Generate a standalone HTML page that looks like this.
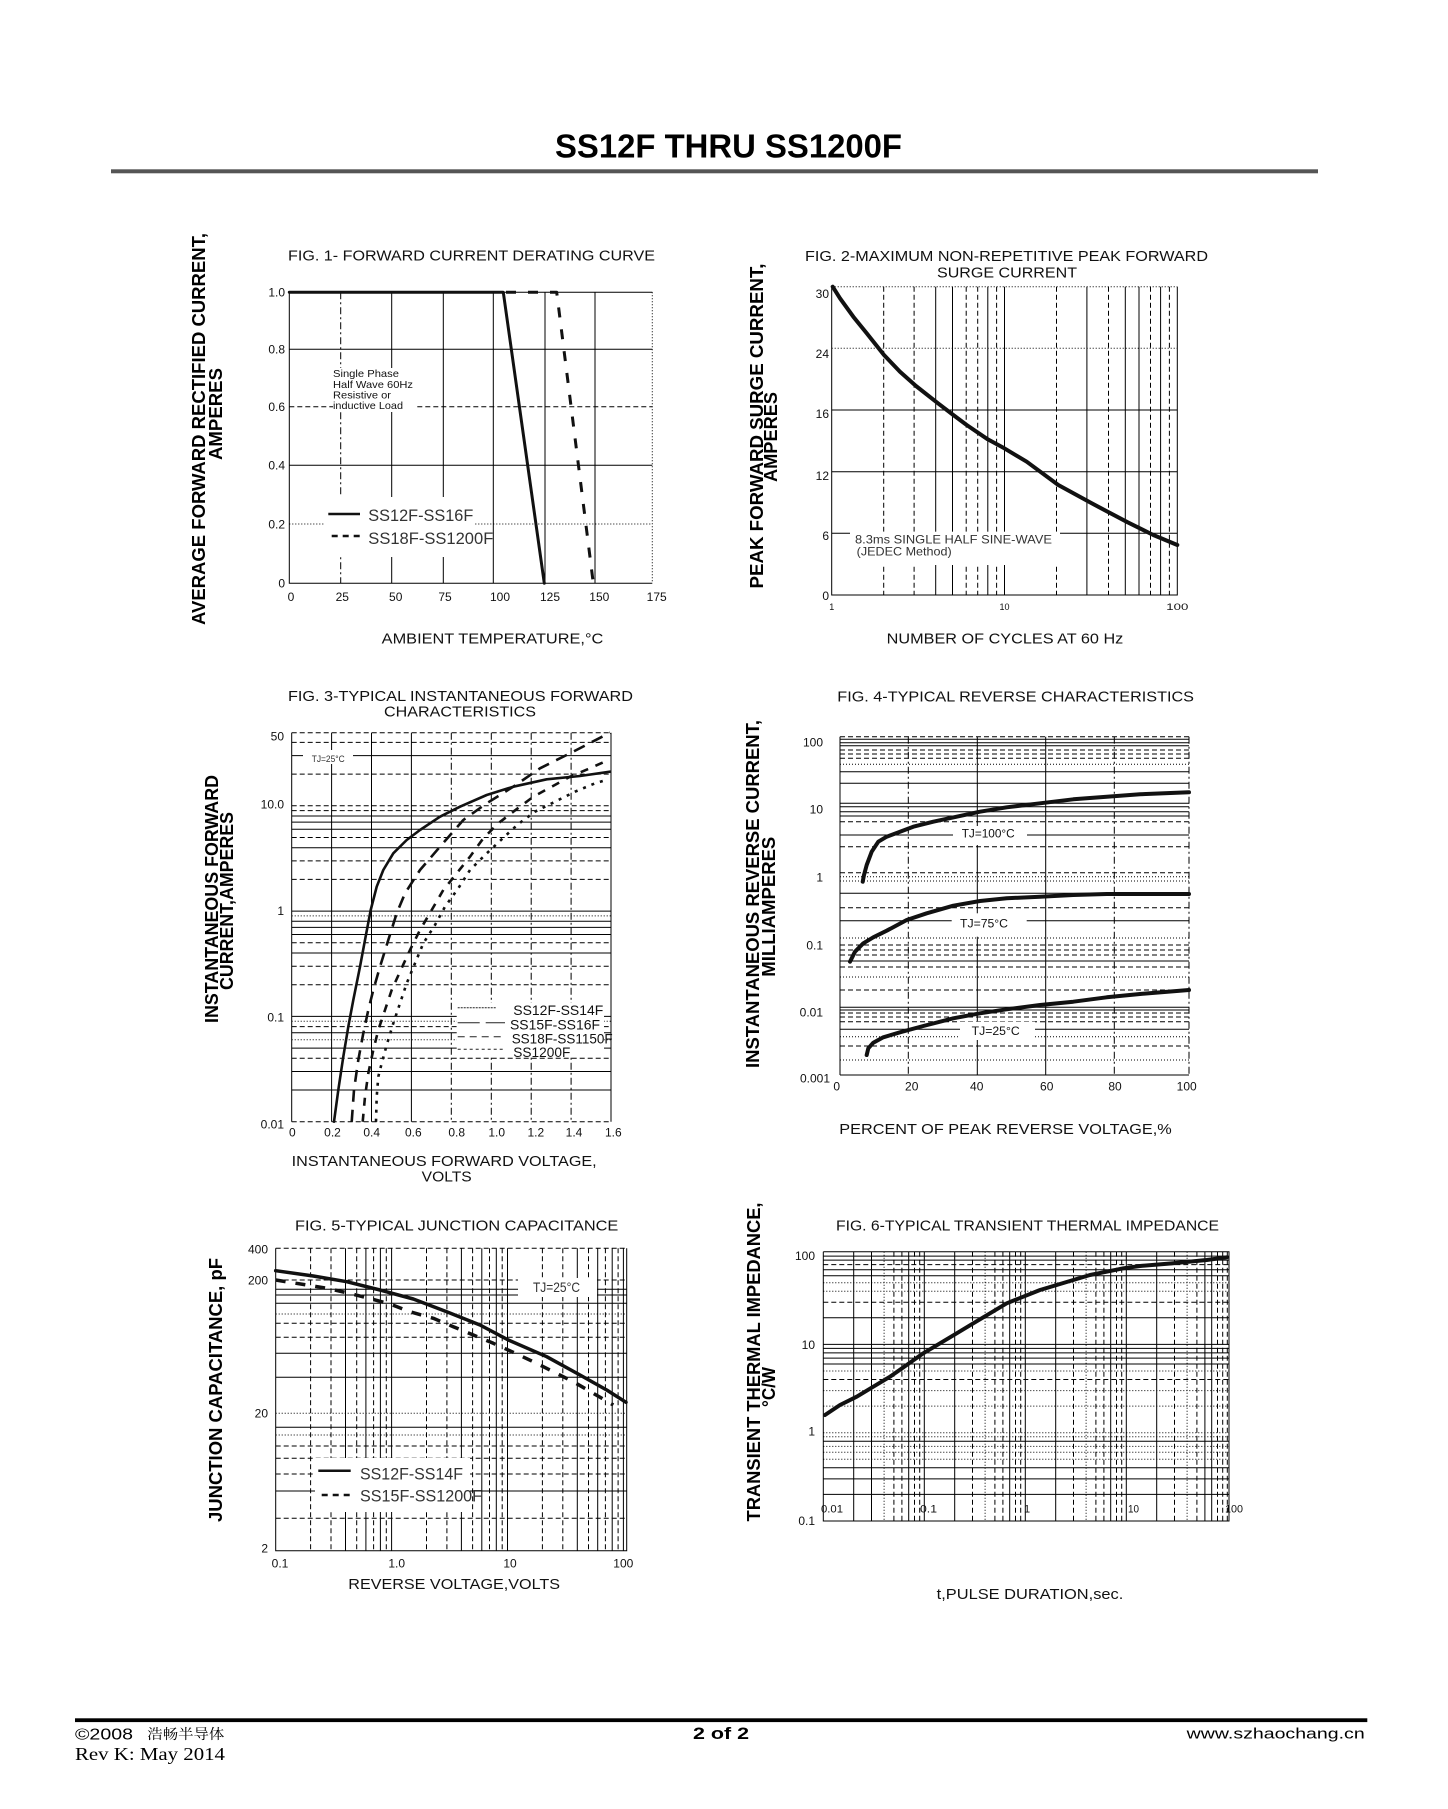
<!DOCTYPE html>
<html><head><meta charset="utf-8"><style>
html,body{margin:0;padding:0;background:#fff}
svg{display:block}
text{font-family:"Liberation Sans",Arial,sans-serif;fill:#111}
.t{font-size:15px}
.k{font-size:12px;fill:#333}
.yb{font-size:18px;font-weight:bold;fill:#000}
.g{fill:none;stroke:#000;stroke-width:1}
.da{stroke-dasharray:5 3}
.dt{stroke-dasharray:1 2}
.dd{stroke-dasharray:7 3 2 3}
.c{fill:none;stroke:#111;stroke-linejoin:round;stroke-linecap:round}
</style></head><body>
<svg width="1448" height="1809" viewBox="0 0 1448 1809" xmlns="http://www.w3.org/2000/svg">
<rect width="1448" height="1809" fill="#fff"/>

<!-- HEADER -->
<text x="555" y="157.3" font-size="33" font-weight="bold" textLength="347" lengthAdjust="spacingAndGlyphs" style="fill:#000">SS12F THRU SS1200F</text>
<rect x="111" y="169.3" width="1207" height="4" fill="#555"/>

<!-- ================= FIG 1 ================= -->
<text class="t" x="288" y="260.5" textLength="367" lengthAdjust="spacingAndGlyphs">FIG. 1- FORWARD CURRENT DERATING CURVE</text>
<path class="g" d="M289.3 292.3V583.3H652.3M289.3 292.3H652.3M391.7 292.3V583.3M443.3 292.3V583.3M493.3 292.3V583.3M545 292.3V583.3M595 292.3V583.3M289.3 349.3H652.3M289.3 465.3H652.3"/>
<path class="g dd" d="M340.7 292.3V583.3"/>
<path class="g da" d="M289.3 406.7H652.3"/>
<path class="g dt" d="M289.3 524H652.3M652.3 292.3V583.3"/>
<rect x="333" y="368" width="84" height="44" fill="#fff"/>
<rect x="325" y="497" width="150" height="60" fill="#fff"/>
<text x="333" y="377" font-size="10.5" textLength="66" lengthAdjust="spacingAndGlyphs">Single Phase</text>
<text x="333" y="388" font-size="10.5" textLength="80" lengthAdjust="spacingAndGlyphs">Half Wave 60Hz</text>
<text x="333" y="398.5" font-size="10.5" textLength="58" lengthAdjust="spacingAndGlyphs">Resistive or</text>
<text x="333" y="409" font-size="10.5" textLength="70" lengthAdjust="spacingAndGlyphs">inductive Load</text>
<polyline class="c" stroke-width="3" points="289.3,292.3 503.3,292.3 544.3,583.3"/>
<polyline class="c" stroke-width="3" stroke-dasharray="10 12" style="stroke-linecap:butt" points="506,292.3 556.7,292.3 593.3,583.3"/>
<line x1="328.3" y1="514" x2="360" y2="514" stroke="#111" stroke-width="2.5"/>
<line x1="331.7" y1="536" x2="360" y2="536" stroke="#111" stroke-width="2.5" stroke-dasharray="6 5"/>
<text x="368.3" y="521" font-size="17" textLength="105" lengthAdjust="spacingAndGlyphs" style="fill:#333">SS12F-SS16F</text>
<text x="368.3" y="544" font-size="17" textLength="125" lengthAdjust="spacingAndGlyphs" style="fill:#333">SS18F-SS1200F</text>
<g class="k" text-anchor="end">
<text x="285" y="296.7">1.0</text><text x="285" y="353.7">0.8</text><text x="285" y="411">0.6</text>
<text x="285" y="469.7">0.4</text><text x="285" y="528.3">0.2</text><text x="285" y="587.7">0</text>
</g>
<g class="k" text-anchor="middle">
<text x="291" y="601">0</text><text x="342.3" y="601">25</text><text x="395.7" y="601">50</text><text x="445" y="601">75</text>
<text x="500" y="601">100</text><text x="550" y="601">125</text><text x="599.3" y="601">150</text><text x="656.7" y="601">175</text>
</g>
<text class="t" x="381.7" y="643.3" textLength="221.6" lengthAdjust="spacingAndGlyphs">AMBIENT TEMPERATURE,°C</text>
<text class="yb" transform="translate(205,429) rotate(-90)" text-anchor="middle" textLength="392" lengthAdjust="spacingAndGlyphs">AVERAGE FORWARD RECTIFIED CURRENT,</text>
<text class="yb" transform="translate(222,414) rotate(-90)" text-anchor="middle" textLength="92" lengthAdjust="spacingAndGlyphs">AMPERES</text>

<!-- ================= FIG 2 ================= -->
<text class="t" x="805" y="261" textLength="403" lengthAdjust="spacingAndGlyphs">FIG. 2-MAXIMUM NON-REPETITIVE PEAK FORWARD</text>
<text class="t" x="937" y="277.5" textLength="140" lengthAdjust="spacingAndGlyphs">SURGE CURRENT</text>
<path class="g" d="M831.7 286.7V595H1177.3V286.7M935.7 286.7V595M952.5 286.7V595M987.8 286.7V595M1004.5 286.7V595M1086.9 286.7V595M1125.3 286.7V595M1139 286.7V595M1160.6 286.7V595M831.7 410H1177.3M831.7 471.7H1177.3M831.7 533.3H1177.3"/>
<path class="g da" d="M883.7 286.7V595M914.1 286.7V595M966.2 286.7V595M977.7 286.7V595M996.6 286.7V595M1056.5 286.7V595M1108.5 286.7V595M1150.5 286.7V595M1169.4 286.7V595"/>
<path class="g dt" d="M831.7 286.7H1177.3M831.7 348.3H1177.3"/>
<rect x="850" y="531.7" width="210" height="33.3" fill="#fff"/>
<text x="855" y="543.3" font-size="12" textLength="197" lengthAdjust="spacingAndGlyphs" style="fill:#333">8.3ms SINGLE HALF SINE-WAVE</text>
<text x="856.7" y="555.5" font-size="12" textLength="95" lengthAdjust="spacingAndGlyphs" style="fill:#333">(JEDEC Method)</text>
<polyline class="c" stroke-width="4" points="832.7,286.7 840,298.3 853.3,316.7 866.7,333.3 884,355 900,371.7 916,386 938,403.3 953.3,415 966.7,425 987.7,439.3 1004.3,448.3 1026.7,461.7 1058.3,485 1091.7,503.3 1127.7,522.3 1153.3,535 1177.3,545"/>
<g class="k" text-anchor="end">
<text x="829" y="298">30</text><text x="829" y="358">24</text><text x="829" y="418">16</text>
<text x="829" y="480">12</text><text x="829" y="540">6</text><text x="829" y="600">0</text>
</g>
<g font-size="9" text-anchor="middle" style="fill:#333">
<text x="831.7" y="610">1</text><text x="1004.5" y="610">10</text><text x="1177.3" y="610" textLength="22" lengthAdjust="spacingAndGlyphs">100</text>
</g>
<text class="t" x="886.7" y="643.3" textLength="236.6" lengthAdjust="spacingAndGlyphs">NUMBER OF CYCLES AT 60 Hz</text>
<text class="yb" transform="translate(763,426) rotate(-90)" text-anchor="middle" textLength="325" lengthAdjust="spacingAndGlyphs">PEAK  FORWARD SURGE CURRENT,</text>
<text class="yb" transform="translate(777,437) rotate(-90)" text-anchor="middle" textLength="90" lengthAdjust="spacingAndGlyphs">AMPERES</text>

<!-- ================= FIG 3 ================= -->
<text class="t" x="288" y="701" textLength="345" lengthAdjust="spacingAndGlyphs">FIG. 3-TYPICAL INSTANTANEOUS FORWARD</text>
<text class="t" x="384" y="716.7" textLength="152" lengthAdjust="spacingAndGlyphs">CHARACTERISTICS</text>
<path class="g" d="M291.7 732.7V1121.7M611 732.7V1121.7M331.6 732.7V1121.7M371.5 732.7V1121.7M411.4 732.7V1121.7
M291.7 1090H611M291.7 1071.5H611M291.7 1048.1H611M291.7 1032.7H611M291.7 1016.4H611
M291.7 953H611M291.7 934.5H611M291.7 927.4H611M291.7 921.3H611M291.7 911.1H611
M291.7 847.7H611M291.7 829.2H611M291.7 822.1H611M291.7 816H611M291.7 755.6H611"/>
<path class="g dd" d="M451.3 732.7V1121.7M491.3 732.7V1121.7M531.2 732.7V1121.7M571.1 732.7V1121.7"/>
<path class="g da" d="M291.7 732.7H611M291.7 1121.7H611M291.7 1058.3H611M291.7 1026.6H611M291.7 984.7H611M291.7 966.2H611M291.7 942.8H611M291.7 879.4H611M291.7 860.9H611M291.7 837.5H611M291.7 810.6H611M291.7 805.8H611M291.7 774.1H611M291.7 742.4H611"/>
<path class="g dt" d="M291.7 1039.8H611M291.7 1021.2H611M291.7 915.9H611"/>
<rect x="303" y="750" width="50" height="14" fill="#fff"/>
<text x="311.7" y="762" font-size="9" textLength="33" lengthAdjust="spacingAndGlyphs" style="fill:#333">TJ=25°C</text>
<rect x="456.7" y="1003" width="147.3" height="52" fill="#fff"/>
<polyline class="c" stroke-width="2.6" points="334,1121.7 338.3,1090 343.3,1056.7 348.3,1026.7 353.3,1000 360,966.7 365,940 370.7,910 376.7,886.7 383.3,870 393.3,853.3 406.7,840 420,830 440,816.7 460,806.7 486.7,795 513.3,786.7 546.7,779.3 580,776 610,771.7"/>
<polyline class="c" stroke-width="2.6" stroke-dasharray="12 8" style="stroke-linecap:butt" points="351.7,1121.7 354,1090 358.3,1060 363.3,1033.3 368.3,1010 373.3,990 380,966.7 388.3,940 396.7,913.3 405,893.3 420,870 440,846.7 463.3,820 486.7,803.3 513.3,786.7 540,768.3 570,753.3 610,732.7"/>
<polyline class="c" stroke-width="2.6" stroke-dasharray="8 8" style="stroke-linecap:butt" points="362.7,1121.7 365,1096.7 368.3,1073.3 373.3,1050 378.3,1030 385,1010 391.7,990 400,971.7 410,950 420,930 431.7,910 443.3,890 456.7,873.3 470,856.7 483.3,838.3 498.3,823.3 513.3,811.7 533.3,796.7 551.7,786.7 570,776.7 590,768.3 608.3,760"/>
<polyline class="c" stroke-width="2.6" stroke-dasharray="3 6" style="stroke-linecap:butt" points="376,1121.7 376.7,1096.7 378.3,1076.7 381.7,1063.3 386.7,1045 393.3,1023.3 400,1003.3 406.7,983.3 415,963.3 423.3,943.3 435,925 445,906.7 458.3,888.3 470,870 485,855 501.7,839.3 518.3,824 535,811.7 555,801.7 575,791.7 595,783.3 608.3,779.3"/>
<line x1="457.7" y1="1007.7" x2="496.7" y2="1007.7" stroke="#222" stroke-width="1" stroke-dasharray="2 1"/>
<line x1="457.7" y1="1022.7" x2="505" y2="1022.7" stroke="#222" stroke-width="1" stroke-dasharray="22 6"/>
<line x1="457.7" y1="1036.7" x2="505" y2="1036.7" stroke="#222" stroke-width="1" stroke-dasharray="7 5"/>
<line x1="457.7" y1="1049.3" x2="505" y2="1049.3" stroke="#222" stroke-width="1" stroke-dasharray="3 3"/>
<g font-size="13.5" style="fill:#333">
<text x="513.3" y="1015" textLength="90" lengthAdjust="spacingAndGlyphs">SS12F-SS14F</text>
<text x="510" y="1029.5" textLength="90" lengthAdjust="spacingAndGlyphs">SS15F-SS16F</text>
<text x="511.7" y="1043.3" textLength="101" lengthAdjust="spacingAndGlyphs">SS18F-SS1150F</text>
<text x="513.3" y="1057" textLength="57" lengthAdjust="spacingAndGlyphs">SS1200F</text>
</g>
<g class="k" text-anchor="end">
<text x="284" y="740.7">50</text><text x="284" y="808.3">10.0</text><text x="284" y="915">1</text>
<text x="284" y="1021.7">0.1</text><text x="284" y="1128.3">0.01</text>
</g>
<g class="k" text-anchor="middle">
<text x="292.3" y="1136.7">0</text><text x="332.5" y="1136.7">0.2</text><text x="371.7" y="1136.7">0.4</text><text x="413.3" y="1136.7">0.6</text>
<text x="456.7" y="1136.7">0.8</text><text x="496.7" y="1136.7">1.0</text><text x="535.8" y="1136.7">1.2</text><text x="574" y="1136.7">1.4</text><text x="613.3" y="1136.7">1.6</text>
</g>
<text class="t" x="291.7" y="1166" textLength="305" lengthAdjust="spacingAndGlyphs">INSTANTANEOUS FORWARD VOLTAGE,</text>
<text class="t" x="421.7" y="1181.7" textLength="50" lengthAdjust="spacingAndGlyphs">VOLTS</text>
<text class="yb" transform="translate(218,899) rotate(-90)" text-anchor="middle" textLength="248" lengthAdjust="spacingAndGlyphs">INSTANTANEOUS FORWARD</text>
<text class="yb" transform="translate(233,901) rotate(-90)" text-anchor="middle" textLength="178" lengthAdjust="spacingAndGlyphs">CURRENT,AMPERES</text>

<!-- ================= FIG 4 ================= -->
<text class="t" x="837.3" y="701.7" textLength="356.7" lengthAdjust="spacingAndGlyphs">FIG. 4-TYPICAL REVERSE CHARACTERISTICS</text>
<path class="g" d="M840 736.7V1075M977.3 736.7V1075M1045.7 736.7V1075M840 1075H1189
M840 739.3H1189M840 742.7H1189M840 745.7H1189M840 771.7H1189M840 783.3H1189M840 803.3H1189M840 806.7H1189M840 811.7H1189M840 816H1189M840 835H1189M840 893.3H1189M840 920.7H1189M840 961H1189M840 1007.3H1189M840 1010H1189M840 1029.3H1189"/>
<path class="g dd" d="M908.3 736.7V1075M1114.3 736.7V1075M1189 736.7V1075"/>
<path class="g da" d="M840 736.7H1189M840 750H1189M840 754H1189M840 758.3H1189M840 821.7H1189M840 846.7H1189M840 872.7H1189M840 907.7H1189M840 945H1189M840 950H1189M840 955H1189M840 967H1189M840 990H1189M840 1013H1189M840 1017H1189M840 1021.7H1189M840 1046H1189"/>
<path class="g dt" d="M840 764.3H1189M840 876.7H1189M840 881H1189M840 938H1189M840 977H1189M840 1036.7H1189M840 1060H1189"/>
<rect x="953" y="826" width="74" height="19" fill="#fff"/>
<rect x="951.7" y="913.3" width="75" height="23.4" fill="#fff"/>
<rect x="960" y="1021.7" width="75" height="18.3" fill="#fff"/>
<g font-size="12" style="fill:#333">
<text x="961.7" y="837.5" textLength="53" lengthAdjust="spacingAndGlyphs">TJ=100°C</text>
<text x="960" y="927.3" textLength="48" lengthAdjust="spacingAndGlyphs">TJ=75°C</text>
<text x="971.7" y="1035" textLength="48" lengthAdjust="spacingAndGlyphs">TJ=25°C</text>
</g>
<polyline class="c" stroke-width="4" points="862.7,881.7 864,875 866.7,865 871.7,851.7 878.3,841.7 886.7,836.7 900,831.7 913.3,826.7 933.3,821.7 956.7,816.7 980,811.7 1006.7,807.3 1040,803.3 1073.3,799.3 1106.7,796.7 1140,794.3 1189,792.3"/>
<polyline class="c" stroke-width="4" points="850,961.7 855,951.7 863.3,943.3 873.3,937.3 886.7,930.7 906.7,920 926.7,913.3 953.3,905.7 980,901 1006.7,898.3 1040,896.7 1073.3,895 1106.7,894 1189,894"/>
<polyline class="c" stroke-width="4" points="866.7,1055 868.3,1048.3 873.3,1042.7 883.3,1037.3 900,1032.3 923.3,1026 953.3,1018.3 980,1013.3 1006.7,1009.3 1040,1005 1073.3,1001.7 1106.7,997.3 1140,994 1189,990"/>
<g class="k" text-anchor="end">
<text x="823" y="746.7">100</text><text x="823" y="813.3">10</text><text x="823" y="881.7">1</text>
<text x="823" y="949.3">0.1</text><text x="823" y="1016.7">0.01</text><text x="830" y="1082.7">0.001</text>
</g>
<g class="k" text-anchor="middle">
<text x="836.7" y="1090.7">0</text><text x="911.7" y="1090.7">20</text><text x="976.7" y="1090.7">40</text>
<text x="1046.7" y="1090.7">60</text><text x="1115" y="1090.7">80</text><text x="1186.7" y="1090.7">100</text>
</g>
<text class="t" x="839.3" y="1134" textLength="332.4" lengthAdjust="spacingAndGlyphs">PERCENT OF PEAK REVERSE VOLTAGE,%</text>
<text class="yb" transform="translate(759,894) rotate(-90)" text-anchor="middle" textLength="348" lengthAdjust="spacingAndGlyphs">INSTANTANEOUS REVERSE CURRENT,</text>
<text class="yb" transform="translate(775,906.7) rotate(-90)" text-anchor="middle" textLength="140" lengthAdjust="spacingAndGlyphs">MILLIAMPERES</text>

<!-- ================= FIG 5 ================= -->
<text class="t" x="295" y="1230.7" textLength="323.3" lengthAdjust="spacingAndGlyphs">FIG. 5-TYPICAL JUNCTION CAPACITANCE</text>
<path class="g" d="M275.7 1248.3V1550.7H626.7V1248.3M345.5 1248.3V1550.7M365.9 1248.3V1550.7M380.4 1248.3V1550.7M391.6 1248.3V1550.7M461.4 1248.3V1550.7M481.8 1248.3V1550.7M496.3 1248.3V1550.7M507.5 1248.3V1550.7M577.3 1248.3V1550.7M597.7 1248.3V1550.7M612.2 1248.3V1550.7M623.4 1248.3V1550.7
M275.7 1289.3H626.7M275.7 1295H626.7M275.7 1303.3H626.7M275.7 1353.3H626.7M275.7 1377.3H626.7M275.7 1427.3H626.7M275.7 1491H626.7"/>
<path class="g da" d="M310.6 1248.3V1550.7M331 1248.3V1550.7M356.7 1248.3V1550.7M373.6 1248.3V1550.7M386.3 1248.3V1550.7M426.5 1248.3V1550.7M446.9 1248.3V1550.7M472.6 1248.3V1550.7M489.5 1248.3V1550.7M502.2 1248.3V1550.7M542.4 1248.3V1550.7M562.8 1248.3V1550.7M588.5 1248.3V1550.7M605.4 1248.3V1550.7M618.1 1248.3V1550.7
M275.7 1248.3H626.7M275.7 1280H626.7M275.7 1323.3H626.7M275.7 1337.3H626.7M275.7 1446H626.7M275.7 1458.3H626.7M275.7 1474H626.7M275.7 1518.3H626.7"/>
<path class="g dt" d="M275.7 1314H626.7M275.7 1413.3H626.7M275.7 1435H626.7"/>
<rect x="518" y="1278" width="79" height="19" fill="#fff"/>
<text x="533" y="1292" font-size="14" textLength="47" lengthAdjust="spacingAndGlyphs" style="fill:#333">TJ=25°C</text>
<rect x="315" y="1458" width="155" height="54" fill="#fff"/>
<line x1="318.3" y1="1470.7" x2="350.7" y2="1470.7" stroke="#111" stroke-width="2.5"/>
<line x1="321.7" y1="1495" x2="350.7" y2="1495" stroke="#111" stroke-width="2.5" stroke-dasharray="6 5"/>
<text x="360" y="1479.3" font-size="17" textLength="103" lengthAdjust="spacingAndGlyphs" style="fill:#333">SS12F-SS14F</text>
<text x="360" y="1501.7" font-size="17" textLength="122" lengthAdjust="spacingAndGlyphs" style="fill:#333">SS15F-SS1200F</text>
<polyline class="c" stroke-width="3.5" points="275.7,1270.7 313.3,1276 346.7,1281.7 380,1290 413.3,1299 446.7,1311.7 480,1325 508.3,1340 546.7,1356.7 580,1375 606.7,1390 626,1402.3"/>
<polyline class="c" stroke-width="3.5" stroke-dasharray="10 10" style="stroke-linecap:butt" points="275.7,1280 306.7,1285 326.7,1288.3 346.7,1292.7 366.7,1297.7 390,1304 410,1311.7 433.3,1318.3 453.3,1326.7 473.3,1335 493.3,1343.3 513.3,1352.3 533.3,1361.7 553.3,1371.7 573.3,1381.7 593.3,1393.3 613.3,1405"/>
<g class="k" text-anchor="end">
<text x="268" y="1253.3">400</text><text x="268" y="1284.3">200</text><text x="268" y="1417.3">20</text><text x="268" y="1552.7">2</text>
</g>
<g class="k" text-anchor="middle">
<text x="280" y="1567.3">0.1</text><text x="396.7" y="1567.3">1.0</text><text x="510" y="1567.3">10</text><text x="623.3" y="1567.3">100</text>
</g>
<text class="t" x="348.3" y="1589" textLength="211.7" lengthAdjust="spacingAndGlyphs">REVERSE VOLTAGE,VOLTS</text>
<text class="yb" transform="translate(222,1390) rotate(-90)" text-anchor="middle" textLength="264" lengthAdjust="spacingAndGlyphs">JUNCTION CAPACITANCE, pF</text>

<!-- ================= FIG 6 ================= -->
<text class="t" x="836" y="1230.7" textLength="383" lengthAdjust="spacingAndGlyphs">FIG. 6-TYPICAL TRANSIENT THERMAL IMPEDANCE</text>
<path class="g" d="M823.3 1251.7V1521H1229V1251.7H823.3M853.7 1251.7V1521M871.5 1251.7V1521M908.7 1251.7V1521M924.3 1251.7V1521M954.7 1251.7V1521M1009.7 1251.7V1521M1025.3 1251.7V1521M1055.7 1251.7V1521M1110.7 1251.7V1521M1126.3 1251.7V1521M1156.7 1251.7V1521M1204.9 1251.7V1521M1211.7 1251.7V1521
M823.3 1494.4H1229M823.3 1478.9H1229M823.3 1467.8H1229M823.3 1441.2H1229M823.3 1364H1229M823.3 1358.1H1229M823.3 1352.9H1229M823.3 1348.4H1229M823.3 1344.4H1229M823.3 1317.8H1229M823.3 1275.7H1229M823.3 1269.8H1229M823.3 1260.1H1229M823.3 1256.1H1229"/>
<path class="g da" d="M893.9 1251.7V1521M901.9 1251.7V1521M914.5 1251.7V1521M919.7 1251.7V1521M972.5 1251.7V1521M994.9 1251.7V1521M1002.9 1251.7V1521M1015.5 1251.7V1521M1020.7 1251.7V1521M1073.5 1251.7V1521M1095.9 1251.7V1521M1103.9 1251.7V1521M1116.5 1251.7V1521M1121.7 1251.7V1521M1174.5 1251.7V1521M1196.9 1251.7V1521M1217.5 1251.7V1521M1222.7 1251.7V1521M1227.3 1251.7V1521
M823.3 1379.5H1229M823.3 1302.3H1229M823.3 1264.6H1229"/>
<path class="g dt" d="M884.1 1251.7V1521M985.1 1251.7V1521M1086.1 1251.7V1521M1187.1 1251.7V1521
M823.3 1459.3H1229M823.3 1452.3H1229M823.3 1446.4H1229M823.3 1436.7H1229M823.3 1432.7H1229M823.3 1406.1H1229M823.3 1390.6H1229M823.3 1371H1229M823.3 1291.2H1229M823.3 1282.7H1229"/>
<g fill="#fff">
<rect x="825" y="1501.5" width="20" height="14"/><rect x="926" y="1501.5" width="12" height="14"/>
<rect x="1028" y="1501.5" width="8" height="14"/><rect x="1128" y="1501.5" width="12" height="14"/><rect x="1231" y="1501.5" width="13" height="14"/>
</g>
<g font-size="11" style="fill:#333">
<text x="821" y="1512.5" textLength="22" lengthAdjust="spacingAndGlyphs">0.01</text>
<text x="920" y="1512.5" textLength="17" lengthAdjust="spacingAndGlyphs">0.1</text>
<text x="1024" y="1512.5">1</text>
<text x="1128" y="1512.5" textLength="11" lengthAdjust="spacingAndGlyphs">10</text>
<text x="1225" y="1512.5" textLength="18" lengthAdjust="spacingAndGlyphs">100</text>
</g>
<polyline class="c" stroke-width="4" points="825,1415 840,1405 856.7,1396.7 873.3,1386.7 890,1376.7 906.7,1365 923.3,1353.3 940,1343.3 956.7,1333.3 973.3,1323.3 990,1313.3 1006.7,1303.3 1023.3,1296.7 1040,1290 1056.7,1285 1073.3,1280 1090,1275 1106.7,1271.7 1123.3,1268.3 1140,1266 1173.3,1263.3 1206.7,1260 1226.7,1257.3"/>
<g class="k" text-anchor="end">
<text x="815" y="1260">100</text><text x="815" y="1349">10</text><text x="815" y="1435.7">1</text><text x="815" y="1525">0.1</text>
</g>
<text class="t" x="936.7" y="1599" textLength="186.6" lengthAdjust="spacingAndGlyphs">t,PULSE DURATION,sec.</text>
<text class="yb" transform="translate(760,1362) rotate(-90)" text-anchor="middle" textLength="319" lengthAdjust="spacingAndGlyphs">TRANSIENT THERMAL IMPEDANCE,</text>
<text class="yb" transform="translate(775,1387) rotate(-90)" text-anchor="middle" textLength="40" lengthAdjust="spacingAndGlyphs">°C/W</text>

<!-- FOOTER -->
<rect x="75" y="1718.3" width="1292.3" height="3.8" fill="#000"/>
<text x="75" y="1739.3" font-size="15.5" textLength="58" lengthAdjust="spacingAndGlyphs" style="fill:#000">©2008</text>
<text x="147.3" y="1739" font-size="14" textLength="77" lengthAdjust="spacingAndGlyphs" style="font-family:'Liberation Serif','Noto Serif CJK SC',serif;fill:#000">浩畅半导体</text>
<text x="75" y="1760" font-size="17.5" textLength="150" lengthAdjust="spacingAndGlyphs" style="font-family:'Liberation Serif',serif;fill:#000">Rev K:  May 2014</text>
<text x="721" y="1739" font-size="17" font-weight="bold" text-anchor="middle" textLength="56" lengthAdjust="spacingAndGlyphs" style="fill:#000">2 of 2</text>
<text x="1186.7" y="1738.3" font-size="15" textLength="178" lengthAdjust="spacingAndGlyphs" style="fill:#000">www.szhaochang.cn</text>
</svg>
</body></html>
